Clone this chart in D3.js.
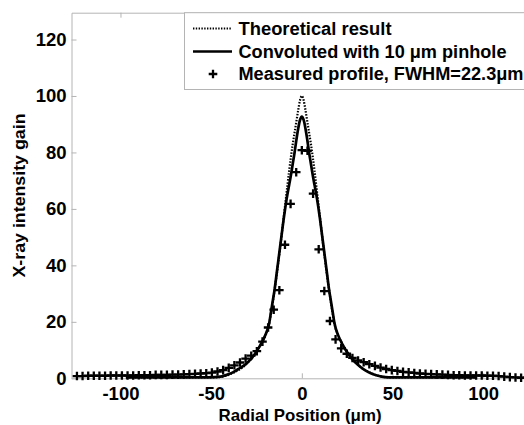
<!DOCTYPE html>
<html>
<head>
<meta charset="utf-8">
<script src="https://cdn.jsdelivr.net/npm/d3@7"></script>
<style>
  html, body { margin: 0; padding: 0; background: #fff; }
  svg { display: block; }
  text { font-family: "Liberation Sans", Arial, sans-serif; font-weight: bold; fill: #000; }
</style>
</head>
<body>
<svg id="chart" width="524" height="425"></svg>
<script>
// ---- data ----
const xTicks = [-100, -50, 0, 50, 100];
const yTicks = [0, 20, 40, 60, 80, 100, 120];

// Theoretical result (dotted)
const theoX = [-97, -55, -48, -44, -41, -38, -35, -32, -30, -28, -26, -24, -22, -20, -18, -17, -16, -15, -14, -13, -12, -11, -10, -9, -8, -7, -6, -5, -4, -3, -2, -1, 0,
               1, 2, 3, 4, 5, 6, 7, 8, 9, 10, 11, 12, 13, 14, 15, 16, 17, 18, 20, 22, 24, 26, 28, 30, 32, 35, 38, 41, 44, 48, 55, 96];
const theoY = [0.3, 0.3, 0.35, 0.6, 1.1, 1.9, 2.9, 4.2, 5.4, 6.7, 8.4, 10.4, 12.6, 15.3, 19.3, 23, 27, 31.5, 36, 41, 46, 51.5, 57, 62.5, 68, 73.5, 78.5, 83, 87, 91, 95, 98.5, 100,
               98.5, 95, 91, 87, 83, 78.5, 73.5, 68, 62.5, 57, 51.5, 46, 41, 36, 31.5, 27, 23, 19.3, 15.3, 12.6, 10.4, 8.4, 6.7, 5.4, 4.2, 2.9, 1.9, 1.1, 0.6, 0.35, 0.3, 0.3];

// Convoluted with 10 um pinhole (solid)
const convX = [-97, -55, -48, -44, -41, -38, -35, -32, -30, -28, -26, -24, -22, -20, -18, -17, -16, -15, -14, -13, -12, -11, -10, -9, -8, -7, -6, -5, -4, -3, -2, -1, 0,
               1, 2, 3, 4, 5, 6, 7, 8, 9, 10, 11, 12, 13, 14, 15, 16, 17, 18, 20, 22, 24, 26, 28, 30, 32, 35, 38, 41, 44, 48, 55, 96];
const convY = [0.3, 0.3, 0.4, 0.7, 1.3, 2.1, 3.3, 4.5, 5.6, 6.9, 8.5, 10.5, 12.8, 15.5, 19.5, 23.5, 27.5, 31.5, 36.5, 41.5, 46.5, 51.5, 56.5, 61, 65, 68.5, 72, 76, 80, 84.5, 88.5, 91.5, 92.7,
               91.5, 88.5, 84.5, 80, 76, 72, 68.5, 65, 61, 56.5, 51.5, 46.5, 41.5, 36.5, 31.5, 27.5, 23.5, 19.5, 15.3, 12.5, 10.2, 8.3, 6.6, 5.3, 4.2, 2.8, 1.8, 1.1, 0.6, 0.35, 0.3, 0.3];

// Measured profile (+ markers)
const measX = [-124, -120.9, -117.8, -114.7, -111.6, -108.5, -105.4, -102.3, -99.2, -96.1, -93, -89.9, -86.8, -83.7, -80.6, -77.5, -74.4, -71.3, -68.2, -65.1,
               -62, -58.9, -55.8, -52.7, -49.6, -46.5, -43.4, -40.3, -37.2, -34.1, -31, -27.9, -24.8, -21.7, -18.6, -15.5, -12.4, -9.3, -6.2, -3.1,
               0, 3.1, 6.2, 9.3, 12.4, 15.5, 18.6, 21.7, 24.8, 27.9, 31, 34.1, 37.2, 40.3, 43.4, 46.5, 49.6, 52.7, 55.8, 58.9,
               62, 65.1, 68.2, 71.3, 74.4, 77.5, 80.6, 83.7, 86.8, 89.9, 93, 96.1, 99.2, 102.3, 105.4, 108.5, 111.6, 114.7, 117.8, 120.9, 124];
const measY = [0.8, 0.8, 0.9, 0.9, 0.9, 0.9, 1.0, 1.0, 1.0, 1.0, 1.0, 1.1, 1.1, 1.1, 1.2, 1.2, 1.2, 1.3, 1.3, 1.4,
               1.5, 1.6, 1.7, 1.8, 2.0, 2.4, 2.9, 3.7, 4.6, 5.6, 7.0, 8.0, 9.6, 13.0, 18.0, 24.3, 31.2, 47.3, 61.8, 73.0,
               80.8, 80.6, 65.4, 45.7, 30.9, 20.3, 13.8, 10.6, 8.7, 7.2, 6.3, 5.7, 5.0, 4.4, 3.8, 3.3, 2.9, 2.6, 2.3, 2.1,
               1.9, 1.7, 1.6, 1.5, 1.4, 1.3, 1.2, 1.1, 1.1, 1.0, 1.0, 1.0, 1.0, 0.9, 0.9, 0.8, 0.6, 0.4, 0.3, 0.2, 0.2];

const legendLabels = ["Theoretical result", "Convoluted with 10 \u03bcm pinhole", "Measured profile, FWHM=22.3\u03bcm"];
const xTitle = "Radial Position (\u03bcm)";
const yTitle = "X-ray intensity gain";

// ---- layout ----
const svg = d3.select("#chart");
const L = 71.5, R = 528, T = 12.7, B = 378.3;
const x = d3.scaleLinear().domain([-127, 124.7]).range([L, R]);
const y = d3.scaleLinear().domain([0, 129.5]).range([B, T]);
const grey = "#b4b4b4";

// axes
const gx = svg.append("g").attr("transform", `translate(0,${B})`)
  .call(d3.axisBottom(x).tickValues(xTicks).tickSizeInner(-5).tickSizeOuter(0).tickPadding(9).tickFormat(d3.format("d")));
const gxTop = svg.append("g").attr("transform", `translate(0,${T})`)
  .call(d3.axisTop(x).tickValues(xTicks).tickSizeInner(-5).tickSizeOuter(0).tickFormat(""));
const gy = svg.append("g").attr("transform", `translate(${L},0)`)
  .call(d3.axisLeft(y).tickValues(yTicks).tickSizeInner(-5).tickSizeOuter(0).tickPadding(5).tickFormat(d3.format("d")));

[gx, gxTop, gy].forEach(g => {
  g.select(".domain").attr("stroke", grey).attr("stroke-width", 1);
  g.selectAll(".tick line").attr("stroke", grey).attr("stroke-width", 1);
  g.selectAll(".tick text").attr("font-size", 18.5).attr("font-weight", "bold")
    .attr("font-family", '"Liberation Sans", Arial, sans-serif').attr("fill", "#000");
});
gx.selectAll(".tick text").text(d => d < 0 ? "-" + Math.abs(d) : d);

// curves
const line = d3.line().x(d => x(d[0])).y(d => y(d[1])).curve(d3.curveMonotoneX);
const convData = convX.map((v, i) => [v, convY[i]]);
const theoData = theoX.map((v, i) => [v, theoY[i]]);

svg.append("path").datum(convData).attr("d", line)
  .attr("fill", "none").attr("stroke", "#000").attr("stroke-width", 2.7);
svg.append("path").datum(theoData).attr("d", line)
  .attr("fill", "none").attr("stroke", "#000").attr("stroke-width", 2.2).attr("stroke-dasharray", "1.5,1.5");

// markers
const cross = (g, cx, cy, s) => {
  g.append("path").attr("d", `M${cx - s},${cy}H${cx + s}M${cx},${cy - s}V${cy + s}`)
    .attr("stroke", "#000").attr("stroke-width", 2.3).attr("fill", "none");
};
const gm = svg.append("g");
measX.forEach((v, i) => cross(gm, x(v), y(measY[i]), 4.3));

// legend
const lg = svg.append("g");
lg.append("rect").attr("x", 184.5).attr("y", T).attr("width", 345).attr("height", 89.5 - T)
  .attr("fill", "#fff").attr("stroke", grey).attr("stroke-width", 1);
const rowsY = [28.5, 51.5, 74];
lg.append("line").attr("x1", 193).attr("x2", 232).attr("y1", rowsY[0]).attr("y2", rowsY[0])
  .attr("stroke", "#000").attr("stroke-width", 2).attr("stroke-dasharray", "1.4,1.4");
lg.append("line").attr("x1", 193).attr("x2", 232).attr("y1", rowsY[1]).attr("y2", rowsY[1])
  .attr("stroke", "#000").attr("stroke-width", 2.6);
cross(lg, 213, rowsY[2], 4.3);
const lens = [153, 268, 285];
legendLabels.forEach((t, i) => {
  lg.append("text").attr("x", 238.5).attr("y", rowsY[i] + 6.3).attr("font-size", 17.5)
    .attr("textLength", lens[i]).attr("lengthAdjust", "spacingAndGlyphs").text(t);
});

// titles
svg.append("text").attr("x", 300).attr("y", 420.5).attr("text-anchor", "middle")
  .attr("font-size", 16.5).attr("textLength", 163).attr("lengthAdjust", "spacingAndGlyphs").text(xTitle);
svg.append("text").attr("transform", "translate(24.5,195.5) rotate(-90)").attr("text-anchor", "middle")
  .attr("font-size", 17).attr("textLength", 164).attr("lengthAdjust", "spacingAndGlyphs").text(yTitle);
</script>
</body>
</html>
